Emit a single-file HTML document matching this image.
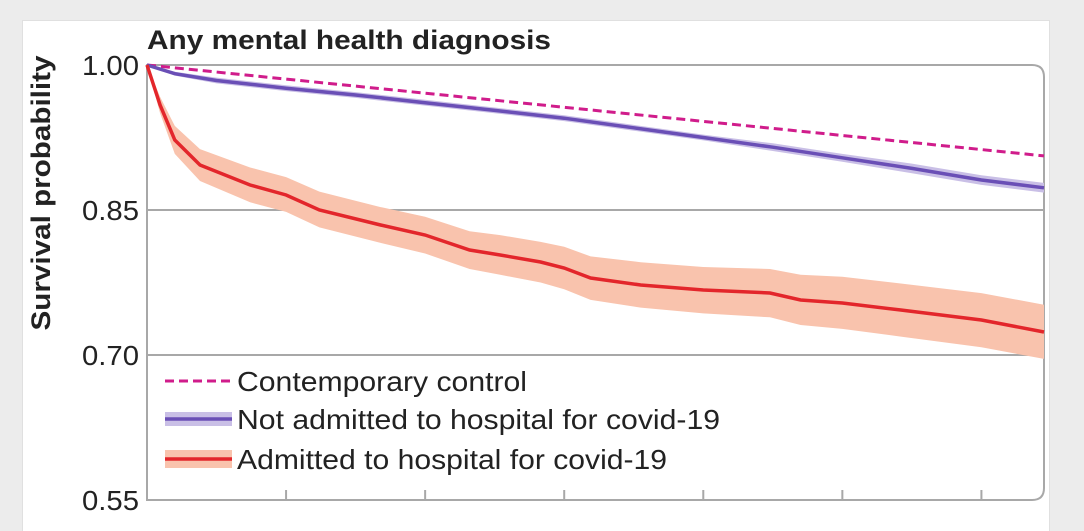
<!DOCTYPE html>
<html><head><meta charset="utf-8"><style>
html,body{margin:0;padding:0;background:#ececec;}
#wrap{position:relative;width:1084px;height:531px;overflow:hidden;background:#ececec;}
#panel{position:absolute;left:22px;top:20px;width:1026px;height:520px;background:#fff;border:1px solid #e0e0e0;}
svg{position:absolute;left:0;top:0;}
text{font-family:"Liberation Sans",sans-serif;fill:#222;}
</style></head><body>
<div id="wrap">
<div id="panel"></div>
<svg id="chart" width="1084" height="531"></svg>
</div>
<script>
const yTicks=[1.00,0.85,0.70,0.55];
const yTickLabels=["1.00","0.85","0.70","0.55"];
const xTicks=[1,2,3,4,5,6];
const controlT=[0,6.45];
const controlV=[1.0,0.906];
const notAdmT=[0,0.2,0.5,1,1.5,2,2.5,3,3.5,4,4.5,5,5.5,6,6.45];
const notAdmV=[1.0,0.991,0.984,0.976,0.969,0.961,0.953,0.945,0.935,0.925,0.915,0.904,0.893,0.881,0.873];
const notAdmLo=[1.0,0.989,0.981,0.973,0.966,0.958,0.950,0.942,0.932,0.922,0.911,0.900,0.888,0.876,0.868];
const notAdmHi=[1.0,0.993,0.987,0.979,0.972,0.964,0.956,0.948,0.938,0.928,0.919,0.908,0.898,0.886,0.878];
const admT=[0,0.094,0.2,0.381,0.741,1.0,1.24,1.68,2.0,2.32,2.54,2.83,3.0,3.19,3.55,4.0,4.48,4.7,5.0,5.42,6.0,6.45];
const admV=[1.0,0.9586,0.9224,0.8966,0.8759,0.8655,0.85,0.8345,0.8241,0.8086,0.8034,0.7962,0.79,0.7797,0.7724,0.7672,0.7641,0.7569,0.7538,0.7466,0.7362,0.7238];
const admLo=[1.0,0.950,0.908,0.880,0.858,0.848,0.832,0.816,0.805,0.789,0.783,0.775,0.768,0.757,0.749,0.743,0.739,0.731,0.727,0.719,0.708,0.696];
const admHi=[1.0,0.967,0.937,0.913,0.894,0.884,0.869,0.853,0.843,0.828,0.824,0.817,0.812,0.802,0.796,0.791,0.789,0.783,0.781,0.774,0.764,0.752];

const svg=document.getElementById('chart');
const NS='http://www.w3.org/2000/svg';
const X0=147,X1=1044,Y0=65,Y1=500,TMAX=6.45;
const xs=t=>X0+t/TMAX*(X1-X0);
const ys=v=>Y0+(1-v)/0.45*(Y1-Y0);
function mk(tag,attrs){const e=document.createElementNS(NS,tag);for(const k in attrs)e.setAttribute(k,attrs[k]);svg.appendChild(e);return e;}
function line(T,V){return T.map((t,i)=>(i?'L':'M')+xs(t).toFixed(1)+','+ys(V[i]).toFixed(1)).join('');}
function band(T,L,H){let d=T.map((t,i)=>(i?'L':'M')+xs(t).toFixed(1)+','+ys(H[i]).toFixed(1)).join('');for(let i=T.length-1;i>=0;i--)d+='L'+xs(T[i]).toFixed(1)+','+ys(L[i]).toFixed(1);return d+'Z';}

let fr=mk('path',{d:`M${X0},${Y1}L${X0},${Y0}L${X1-12},${Y0}Q${X1},${Y0} ${X1},${Y0+12}L${X1},${Y1-12}Q${X1},${Y1} ${X1-12},${Y1}Z`,fill:'none',stroke:'#a8a8a8','stroke-width':2});

yTicks.forEach((v,i)=>{
  if(v<1&&v>0.55){let g=mk('line',{x1:X0,x2:X1,y1:ys(v),y2:ys(v),stroke:'#a8a8a8','stroke-width':2});
  }
  let t=mk('text',{x:139,y:ys(v)+10,'text-anchor':'end','font-size':28,textLength:57,lengthAdjust:'spacingAndGlyphs'});t.textContent=yTickLabels[i];
  
});
xTicks.forEach(t=>{let l=mk('line',{x1:xs(t),x2:xs(t),y1:Y1,y2:Y1-10,stroke:'#a8a8a8','stroke-width':2});
  });

let b1=mk('path',{d:band(admT,admLo,admHi),fill:'#f9c3ad'});
let b2=mk('path',{d:band(notAdmT,notAdmLo,notAdmHi),fill:'#c9bfe6'});
let l1=mk('path',{d:line(controlT,controlV),fill:'none',stroke:'#d01c8b','stroke-width':3,'stroke-dasharray':'9,5'});
let l2=mk('path',{d:line(notAdmT,notAdmV),fill:'none',stroke:'#6a4fb6','stroke-width':3.5});
let l3=mk('path',{d:line(admT,admV),fill:'none',stroke:'#e3262b','stroke-width':3.5});

let tt=mk('text',{x:147,y:49,'font-size':27,'font-weight':'bold',textLength:404,lengthAdjust:'spacingAndGlyphs'});tt.textContent='Any mental health diagnosis';

let ya=mk('text',{x:0,y:0,'font-size':27,'font-weight':'bold','text-anchor':'middle',textLength:275,lengthAdjust:'spacingAndGlyphs',transform:'translate(50,193) rotate(-90)'});ya.textContent='Survival probability';


const legY=[381,419,459];
let g1=mk('line',{x1:165,x2:232,y1:legY[0],y2:legY[0],stroke:'#d01c8b','stroke-width':3,'stroke-dasharray':'9,5'});
let g2b=mk('rect',{x:165,y:legY[1]-7,width:67,height:14,fill:'#c9bfe6'});
let g2=mk('line',{x1:165,x2:232,y1:legY[1],y2:legY[1],stroke:'#6a4fb6','stroke-width':3.5});
let g3b=mk('rect',{x:165,y:legY[2]-9,width:67,height:18,fill:'#f9c3ad'});
let g3=mk('line',{x1:165,x2:232,y1:legY[2],y2:legY[2],stroke:'#e3262b','stroke-width':3.5});
const legText=['Contemporary control','Not admitted to hospital for covid-19','Admitted to hospital for covid-19'];
const legLen=[290,483,430];
legText.forEach((s,i)=>{let t=mk('text',{x:237,y:legY[i]+10,'font-size':28,textLength:legLen[i],lengthAdjust:'spacingAndGlyphs'});t.textContent=s;
  });
</script>
</body></html>
